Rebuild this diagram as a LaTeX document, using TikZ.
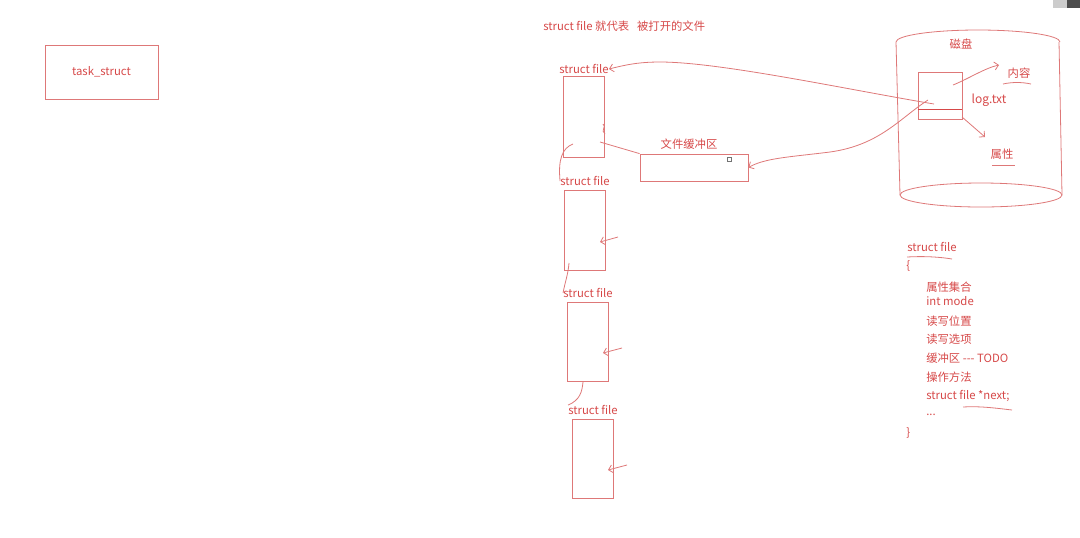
\documentclass[tikz,border=0pt]{standalone}
\usepackage{fontspec}
\setmainfont{Noto Sans CJK SC}
\usetikzlibrary{arrows.meta,calc}
\definecolor{tred}{RGB}{214,72,72}
\definecolor{lred}{RGB}{222,120,120}
\begin{document}
\begin{tikzpicture}[x=0.75pt,y=-0.75pt,
  txt/.style={text=tred,font=\fontsize{8.5}{10}\selectfont,inner sep=0pt},
  rbox/.style={draw=lred,line width=0.6pt,inner sep=0pt},
  ln/.style={draw=lred,line width=0.6pt},
  arr/.style={ln,-{Straight Barb[length=3pt,width=6pt]}}]
\useasboundingbox (0,0) rectangle (1080,537);
% screenshot corner
\fill[black!20] (1053,0) rectangle (1067,8);
\fill[black!70] (1067,0) rectangle (1080,8);
% task_struct
\node[rbox,txt,inner sep=0pt,minimum width=84.75pt,minimum height=40.5pt] (task) at (101.5,72) {task\_struct};
% title
\node[txt,anchor=west] (title) at (543,26) {struct file 就代表\hspace{0.7em}被打开的文件};
% struct file chain
\node[rbox,minimum width=30.75pt,minimum height=60.75pt] (sf1) at (583.5,116.5) {};
\node[rbox,minimum width=30.75pt,minimum height=60pt] (sf2) at (584.5,230) {};
\node[rbox,minimum width=30.75pt,minimum height=59.25pt] (sf3) at (587.5,341.5) {};
\node[rbox,minimum width=30.75pt,minimum height=59.25pt] (sf4) at (592.5,458.5) {};
\node[txt] (l1) at (584,69) {struct file};
\node[txt] (l2) at (585,181) {struct file};
\node[txt] (l3) at (588,293) {struct file};
\node[txt] (l4) at (593,410) {struct file};
% buffer
\node[rbox,minimum width=81pt,minimum height=20.25pt] (buf) at (694,167.5) {};
\node[txt] (bufl) at (689,144) {文件缓冲区};
\node[draw=black!55,line width=0.5pt,inner sep=0pt,minimum size=3pt] (sq) at (729.5,159.5) {};
% disk cylinder
\draw[ln] (896,42) arc[start angle=180,end angle=0,x radius=61.5pt,y radius=9pt];
\draw[ln] (896,42) -- (900,195);
\draw[ln] (1059,42) -- (1062,195);
\draw[ln] (981,195) ellipse[x radius=60.75pt,y radius=9pt];
\node[txt] (disk) at (961,44) {磁盘};
\node[rbox,minimum width=33pt,minimum height=35.25pt] (logbox) at (940,95.5) {};
\draw[draw=tred,line width=0.9pt] ($(logbox.south west)+(0,-10)$) -- ($(logbox.south east)+(0,-10)$);
\node[txt,font=\fontsize{9}{10}\selectfont] (log) at (989,100) {log.txt};
\node[txt] (cont) at (1019,73) {内容};
\node[txt] (attr) at (1002,154) {属性};
\draw[ln] (1003,84) .. controls (1012,82) and (1022,82) .. (1031,84);
\draw[ln] (992,165) -- (1015,165);
\draw[arr] (953,85) .. controls (968,79) and (985,68) .. (999,65);
\draw[arr] (962,117) -- (985,137);
% long curves
\coordinate (s1) at (934,104);
\coordinate (s2) at (928,100);
\draw[arr] (s1) .. controls (850,90) and (720,62) .. (660,62) .. controls (638,62) and (625,65) .. (l1.east);
\draw[arr] (s2) .. controls (900,118) and (880,145) .. (830,152) .. controls (790,157) and (765,158) .. (buf.east);
% box1 to buffer
\coordinate (b1) at (600,142);
\draw[ln] (b1) -- (buf.north west);
\draw[ln] (603,124) .. controls (607,127) and (600,130) .. (605,134);
% chain connectors
\coordinate (c1) at (573,144);
\coordinate (c2) at (569,263);
\coordinate (c3) at (583,382);
\draw[ln] (c1) .. controls (562,148) and (558,160) .. (l2.west);
\draw[ln] (c2) .. controls (568,275) and (565,282) .. (l3.west);
\draw[ln] (c3) .. controls (582,392) and (580,400) .. (l4.north west);
% small arrows into boxes
\coordinate (a2) at (618,237);
\coordinate (a3) at (622,348);
\coordinate (a4) at (627,465);
\draw[arr] (a2) -- (600,242);
\draw[arr] (a3) -- (603,353);
\draw[arr] (a4) -- (608,470);
% struct definition
\node[txt,anchor=west] (d0) at (907,247) {struct file};
\draw[ln] (907,257) .. controls (925,256) and (940,257) .. (952,259);
\node[txt,anchor=west] (d1) at (906,266) {\{};
\node[txt,anchor=west] (d2) at (926,287) {属性集合};
\node[txt,anchor=west] (d3) at (926,301) {int mode};
\node[txt,anchor=west] (d4) at (926,321) {读写位置};
\node[txt,anchor=west] (d5) at (926,339) {读写选项};
\node[txt,anchor=west] (d6) at (926,358) {缓冲区 {-}{-}{-} TODO};
\node[txt,anchor=west] (d7) at (926,377) {操作方法};
\node[txt,anchor=west] (d8) at (926,396) {struct file *next;};
\node[txt,anchor=west] (d9) at (926,415) {...};
\node[txt,anchor=west] (d10) at (906,433) {\}};
\draw[ln] (963,407) .. controls (980,406) and (995,408) .. (1012,410);
\end{tikzpicture}
\end{document}
